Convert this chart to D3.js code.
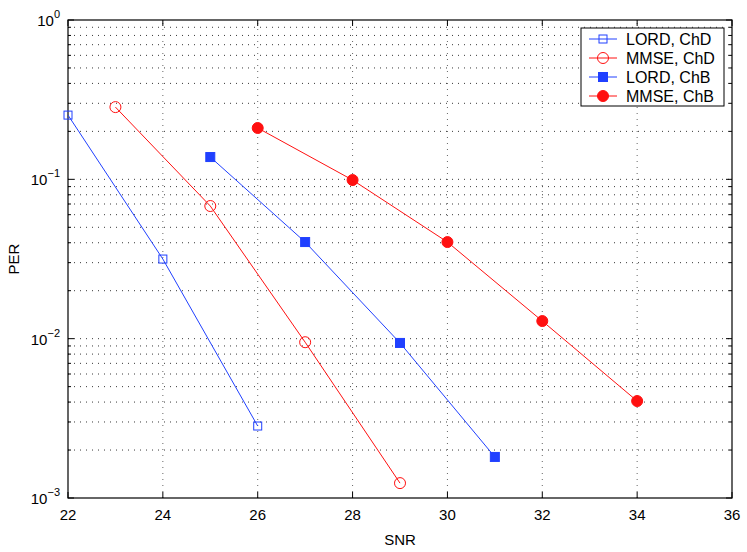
<!DOCTYPE html>
<html>
<head>
<meta charset="utf-8">
<script src="https://cdn.jsdelivr.net/npm/d3@7/dist/d3.min.js"></script>
<style>
  body { margin: 0; background: #fff; }
  svg text { font-family: "Liberation Sans", Arial, sans-serif; fill: #000; }
</style>
</head>
<body>
<div id="chart"></div>
<script>
// SNR values and PER per curve
const snrLordChD = [22, 24, 26];
const perLordChD = [0.253, 0.0316, 0.00283];

const snrMmseChD = [23, 25, 27, 29];
const perMmseChD = [0.284, 0.068, 0.0095, 0.00124];

const snrLordChB = [25, 27, 29, 31];
const perLordChB = [0.138, 0.0404, 0.0094, 0.00181];

const snrMmseChB = [26, 28, 30, 32, 34];
const perMmseChB = [0.21, 0.099, 0.0404, 0.0129, 0.00406];

const xTicks = [22, 24, 26, 28, 30, 32, 34, 36];
const yDecades = [-3, -2, -1, 0];

const seriesNames = ['LORD, ChD', 'MMSE, ChD', 'LORD, ChB', 'MMSE, ChB'];

const width = 747;
const height = 552;
const margin = { left: 68, right: 15, top: 20, bottom: 54 };

const blue = '#2040ff';
const red = '#ff1010';

const series = [
  { name: seriesNames[0], x: snrLordChD, y: perLordChD, color: blue, marker: 'square', filled: false },
  { name: seriesNames[1], x: snrMmseChD, y: perMmseChD, color: red, marker: 'circle', filled: false },
  { name: seriesNames[2], x: snrLordChB, y: perLordChB, color: blue, marker: 'square', filled: true },
  { name: seriesNames[3], x: snrMmseChB, y: perMmseChB, color: red, marker: 'circle', filled: true },
];

const svg = d3.select('#chart').append('svg')
  .attr('width', width)
  .attr('height', height);

const x = d3.scaleLinear().domain([22, 36]).range([margin.left, width - margin.right]);
const y = d3.scaleLog().domain([1e-3, 1]).range([height - margin.bottom, margin.top]);

const x0 = x.range()[0], x1 = x.range()[1];
const y0 = y.range()[0], y1 = y.range()[1];

// minor log ticks: 2..9 in each decade + decades
const minor = [];
yDecades.slice(0, -1).forEach((d) => {
  for (let k = 2; k <= 9; k++) minor.push(k * Math.pow(10, d));
});
const decades = yDecades.map((d) => Math.pow(10, d));

const grid = svg.append('g');
// horizontal dotted grid
grid.selectAll('line.hg')
  .data(minor.concat(decades.slice(1, -1)))
  .enter().append('line')
  .attr('x1', x0).attr('x2', x1)
  .attr('y1', (d) => y(d)).attr('y2', (d) => y(d))
  .attr('stroke', '#222')
  .attr('stroke-width', 0.9)
  .attr('stroke-dasharray', '1,5');
// vertical dotted grid
grid.selectAll('line.vg')
  .data(xTicks.slice(1, -1))
  .enter().append('line')
  .attr('x1', (d) => x(d)).attr('x2', (d) => x(d))
  .attr('y1', y0).attr('y2', y1)
  .attr('stroke', '#555')
  .attr('stroke-width', 0.9)
  .attr('stroke-dasharray', '1,5');

// ticks (inside, on all four sides)
const ticks = svg.append('g').attr('stroke', '#000').attr('stroke-width', 1);
xTicks.forEach((t) => {
  ticks.append('line').attr('x1', x(t)).attr('x2', x(t)).attr('y1', y0).attr('y2', y0 - 6);
  ticks.append('line').attr('x1', x(t)).attr('x2', x(t)).attr('y1', y1).attr('y2', y1 + 6);
});
decades.forEach((t) => {
  ticks.append('line').attr('x1', x0).attr('x2', x0 + 6).attr('y1', y(t)).attr('y2', y(t));
  ticks.append('line').attr('x1', x1).attr('x2', x1 - 6).attr('y1', y(t)).attr('y2', y(t));
});
minor.forEach((t) => {
  ticks.append('line').attr('x1', x0).attr('x2', x0 + 3).attr('y1', y(t)).attr('y2', y(t));
  ticks.append('line').attr('x1', x1).attr('x2', x1 - 3).attr('y1', y(t)).attr('y2', y(t));
});

// box
svg.append('rect')
  .attr('x', x0).attr('y', y1)
  .attr('width', x1 - x0).attr('height', y0 - y1)
  .attr('fill', 'none')
  .attr('stroke', '#000')
  .attr('stroke-width', 1.2);

// tick labels
svg.append('g').selectAll('text')
  .data(xTicks)
  .enter().append('text')
  .attr('x', (d) => x(d))
  .attr('y', y0 + 22)
  .attr('text-anchor', 'middle')
  .style('font-size', '15px')
  .text((d) => d);

const yl = svg.append('g').selectAll('text')
  .data(yDecades)
  .enter().append('text')
  .attr('x', x0 - 8)
  .attr('y', (d) => y(Math.pow(10, d)) + 6)
  .attr('text-anchor', 'end')
  .style('font-size', '15px');
yl.append('tspan').text('10');
yl.append('tspan')
  .attr('dy', -8)
  .style('font-size', '11px')
  .text((d) => (d < 0 ? '\u2212' + (-d) : d));

// axis titles
svg.append('text')
  .attr('x', (x0 + x1) / 2)
  .attr('y', 545)
  .attr('text-anchor', 'middle')
  .style('font-size', '15px')
  .text('SNR');

svg.append('text')
  .attr('transform', `translate(19,${(y0 + y1) / 2}) rotate(-90)`)
  .attr('text-anchor', 'middle')
  .style('font-size', '15px')
  .text('PER');

// curves
const line = d3.line().x((d) => x(d[0])).y((d) => y(d[1]));

function drawMarker(g, s, cx, cy) {
  if (s.marker === 'square') {
    const half = s.filled ? 4.5 : 4;
    g.append('rect')
      .attr('x', cx - half).attr('y', cy - half)
      .attr('width', half * 2).attr('height', half * 2)
      .attr('fill', s.filled ? s.color : 'none')
      .attr('stroke', s.color)
      .attr('stroke-width', 1);
  } else {
    g.append('circle')
      .attr('cx', cx).attr('cy', cy)
      .attr('r', 5.5)
      .attr('fill', s.filled ? s.color : 'none')
      .attr('stroke', s.color)
      .attr('stroke-width', 1);
  }
}

series.forEach((s) => {
  const pts = s.x.map((v, i) => [v, s.y[i]]);
  const g = svg.append('g');
  g.append('path')
    .attr('d', line(pts))
    .attr('fill', 'none')
    .attr('stroke', s.color)
    .attr('stroke-width', 1);
  pts.forEach((p) => drawMarker(g, s, x(p[0]), y(p[1])));
});

// legend
const legend = svg.append('g');
legend.append('rect')
  .attr('x', 581).attr('y', 28)
  .attr('width', 143).attr('height', 78)
  .attr('fill', '#fff')
  .attr('stroke', '#000')
  .attr('stroke-width', 1);

series.forEach((s, i) => {
  const ly = 39 + i * 19;
  legend.append('line')
    .attr('x1', 589).attr('x2', 617)
    .attr('y1', ly).attr('y2', ly)
    .attr('stroke', s.color)
    .attr('stroke-width', 1);
  drawMarker(legend, s, 603, ly);
  legend.append('text')
    .attr('x', 626)
    .attr('y', ly + 5.5)
    .style('font-size', '16px')
    .text(s.name);
});
</script>
</body>
</html>
